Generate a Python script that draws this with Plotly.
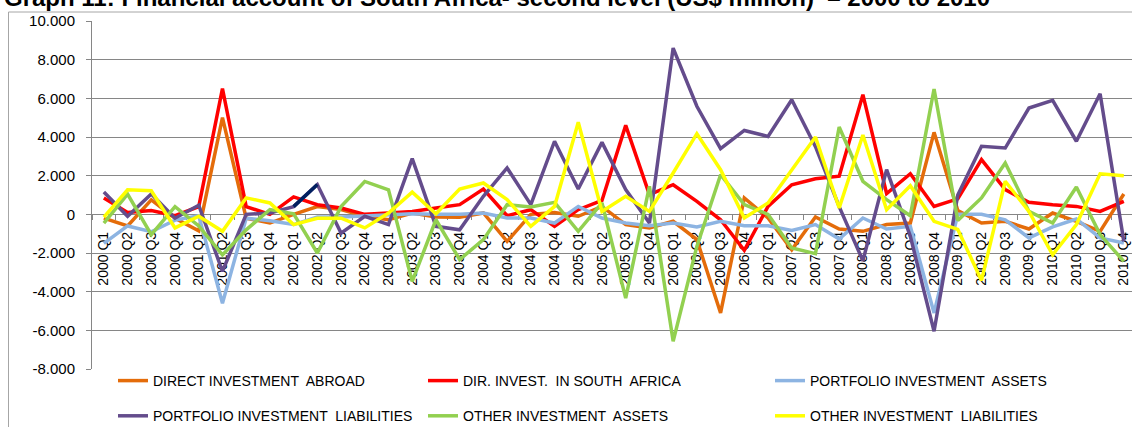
import plotly.graph_objects as go

quarters = [f"{y} Q{q}" for y in range(2000, 2011) for q in range(1, 5)]

direct_abroad = [-200, -600, 750, -200, -850, 5000, -200, -450, 0, 400, 250, -100, -280, 70, -140,
                 -150, 70, -1400, 0, 100, -100, 410, -530, -700, -360, -1310, -5100, 850, -190, -1830,
                 -140, -760, -880, -530, -450, 4240, 200, -450, -360, -760, 70, -360, -880, 1050]
dir_in_sa = [850, 100, 200, -70, 400, 6500, 400, 0, 900, 500, 330, 0, 70, 150, 330,
             500, 1310, -70, 240, -620, 240, 720, 4600, 1020, 1530, 670, -280, -1860, 410, 1530,
             1840, 1970, 6190, 1070, 2100, 410, 800, 2830, 1280, 620, 500, 410, 150, 670]
port_assets = [-1500, -600, -900, -300, -70, -4600, -200, -330, -530, -140, -140, -70, 0, 30, 0,
               0, 70, -190, -190, -450, 410, -190, -450, -590, -450, -650, -360, -590, -590, -830,
               -530, -1280, -190, -760, -620, -5100, 0, 0, -280, -1220, -650, -240, -1220, -1480]
port_liab = [1150, -100, 1050, -200, 470, -2950, 0, 70, 400, 1540, -970, -100, -530, 2880, -620,
             -800, 930, 2400, 500, 3780, 1310, 3720, 1280, -450, 8600, 5590, 3400, 4340, 4030, 5930,
             3500, 400, -2400, 2310, -1140, -6050, 1000, 3520, 3430, 5500, 5900, 3780, 6240, -1400]
other_assets = [-450, 1050, -1050, 400, -600, -2100, -800, 250, 30, -2000, 400, 1700, 1270, -3470, -280,
                -2340, -1310, 500, 380, 620, -880, 590, -4330, 1450, -6570, -1660, 2050, 500, 0, -1740,
                -2030, 4520, 1710, 760, -70, 6480, -320, 850, 2660, 150, -450, 1410, -1050, -2430]
other_liab = [-150, 1270, 1220, -700, -100, -880, 850, 590, -530, -200, -200, -700, 70, 1150, 30,
              1310, 1620, 760, -620, 410, 4760, 150, 930, 150, 2140, 4170, 2310, -190, 590, 2310,
              4000, 330, 4100, 240, 1480, -360, -780, -3420, 1710, 150, -2090, -530, 2100, 2000]
navy_segment = [None] * 8 + [400, 1540] + [None] * 34

y_ticks = list(range(-8000, 10001, 2000))
y_tick_text = ["-8.000", "-6.000", "-4.000", "-2.000", "0", "2.000", "4.000", "6.000", "8.000", "10.000"]

series = [
    ("DIRECT INVESTMENT  ABROAD", direct_abroad, "#E46C0A", "legend", "g1"),
    ("DIR. INVEST.  IN SOUTH  AFRICA", dir_in_sa, "#FF0000", "legend2", "g1"),
    ("PORTFOLIO INVESTMENT  ASSETS", port_assets, "#8DB4E2", "legend3", "g1"),
    ("PORTFOLIO INVESTMENT  LIABILITIES", port_liab, "#644C8C", "legend", "g2"),
    ("OTHER INVESTMENT  ASSETS", other_assets, "#92D050", "legend2", "g2"),
    ("OTHER INVESTMENT  LIABILITIES", other_liab, "#FFFF00", "legend3", "g2"),
]

fig = go.Figure()
for name, vals, color, leg, grp in series:
    fig.add_trace(go.Scatter(x=quarters, y=vals, mode="lines", name=name,
                             line=dict(color=color, width=3.5),
                             legend=leg, legendgroup=grp))
fig.add_trace(go.Scatter(x=quarters, y=navy_segment, mode="lines", showlegend=False,
                         line=dict(color="#002060", width=3.5), hoverinfo="skip"))

W, H = 1132, 427
L, R, T, B = 92, 0, 21, 58
pw, ph = W - L - R, H - T - B
def px(xp):
    return (xp - L) / pw
def py(yp):
    return (H - B - yp) / ph

step = 23.72
xr_end = -0.5 + pw / step

grid = "#868686"
font_family = "Liberation Sans, Arial, sans-serif"
leg_font = dict(family=font_family, size=14, color="#000000")

fig.update_layout(
    width=W, height=H,
    margin=dict(l=L, r=R, t=T, b=B, autoexpand=False),
    paper_bgcolor="white", plot_bgcolor="white",
    font=dict(family=font_family, color="#000000"),
    showlegend=True,
    xaxis=dict(type="category", range=[-0.5, xr_end], anchor="free",
               position=8000 / 18000, showline=True, linecolor=grid, linewidth=1,
               ticks="outside", ticklen=5, tickcolor=grid, tickson="boundaries",
               tickangle=-90, tickfont=dict(family=font_family, size=14, color="#000000"),
               showgrid=False, zeroline=False, layer="below traces", automargin=False,
               ticklabelstandoff=11),
    yaxis=dict(range=[-8000, 10000], tickvals=y_ticks, ticktext=y_tick_text,
               showgrid=True, gridcolor=grid, gridwidth=1, zeroline=False,
               showline=True, linecolor=grid, linewidth=1, ticks="outside", ticklen=5,
               tickcolor=grid, tickfont=dict(family=font_family, size=15, color="#000000"),
               automargin=False, ticklabelstandoff=8),
    legend=dict(x=px(113), y=py(365), xanchor="left", yanchor="top", orientation="v",
                font=leg_font, bgcolor="rgba(0,0,0,0)", tracegroupgap=14, traceorder="grouped"),
    legend2=dict(x=px(423), y=py(365), xanchor="left", yanchor="top", orientation="v",
                 font=leg_font, bgcolor="rgba(0,0,0,0)", tracegroupgap=14, traceorder="grouped"),
    legend3=dict(x=px(770), y=py(365), xanchor="left", yanchor="top", orientation="v",
                 font=leg_font, bgcolor="rgba(0,0,0,0)", tracegroupgap=14, traceorder="grouped"),
    shapes=[dict(type="rect", xref="paper", yref="paper",
                 x0=px(8.5), x1=px(1200), y0=py(480), y1=py(12),
                 line=dict(color="#A6A6A6", width=1), fillcolor="rgba(0,0,0,0)", layer="below")],
    annotations=[dict(text="<b>Graph 11: Financial account of South Africa- second level (US$ million)  \u2013 2000 to 2010</b>",
                      xref="paper", yref="paper", x=px(2), y=py(13), xanchor="left", yanchor="bottom",
                      showarrow=False, font=dict(family=font_family, size=24, color="#000000"))],
)

fig.write_html("out.html", config={"displayModeBar": False},
               post_script="document.body.style.margin='0';document.body.style.overflow='hidden';")
